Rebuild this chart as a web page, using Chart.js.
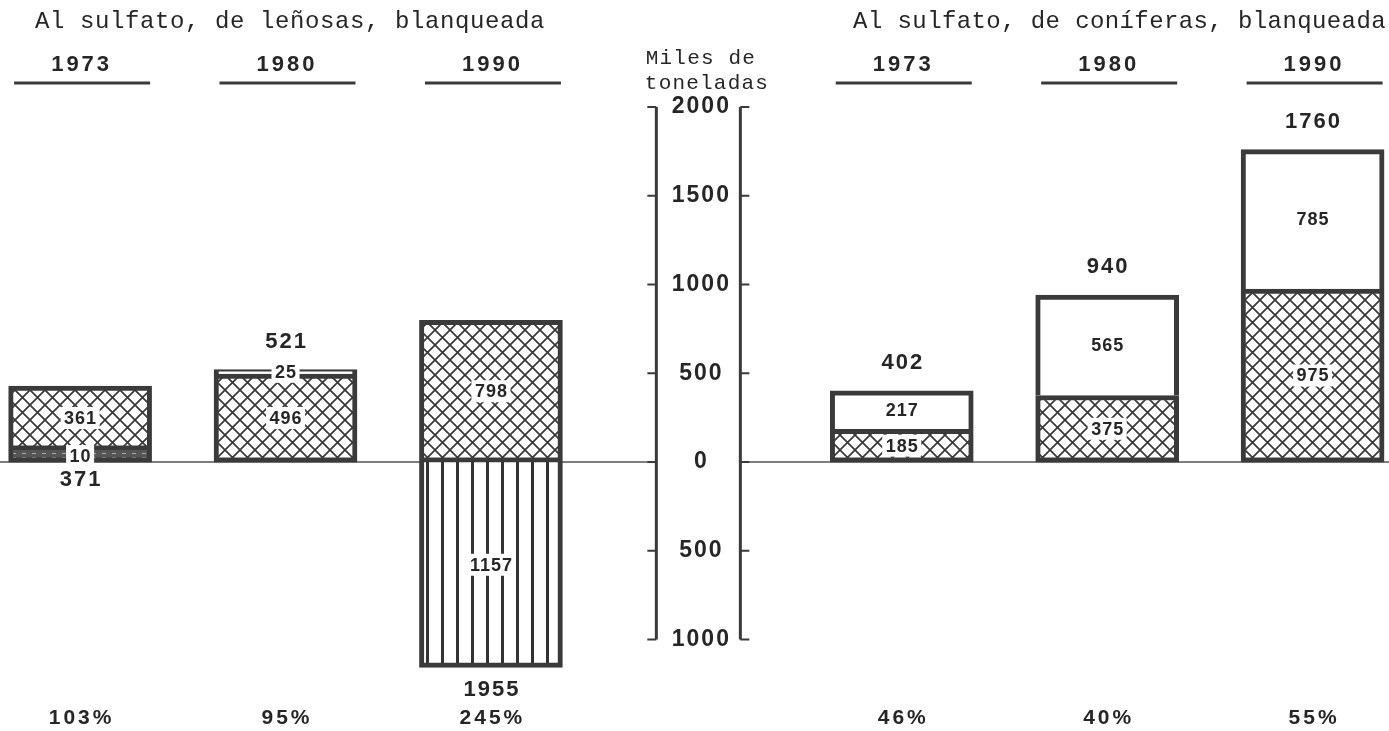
<!DOCTYPE html>
<html lang="es">
<head>
<meta charset="utf-8">
<title>Pasta al sulfato blanqueada</title>
<script src="https://cdn.jsdelivr.net/npm/chart.js@4.4.1/dist/chart.umd.min.js"></script>
<style>
  html, body { margin: 0; padding: 0; background: #fff; }
  #wrap { width: 1389px; height: 731px; }
</style>
</head>
<body>
<div id="wrap"><canvas id="chart" width="1389" height="731"></canvas></div>
<script>
// Categories: three years per pulp type, the empty slot holds the axis
const years = ["1973", "1980", "1990", "", "1973", "1980", "1990"]
const groupTitles = ["Al sulfato, de leñosas, blanqueada", "Al sulfato, de coníferas, blanqueada"]
const unitLabel = ["Miles de", "toneladas"]

// Series values (miles de toneladas)
const bandValues = [10, null, null, null, null, null, null]
const hatchedValues = [361, 496, 798, null, 185, 375, 975]
const whiteValues = [null, 25, null, null, 217, 565, 785]
const negativeValues = [null, null, -1157, null, null, null, null]

// Printed totals and percentages
const totalValues = [371, 521, 1955, null, 402, 940, 1760]
const percentLabels = ["103%", "95%", "245%", "", "46%", "40%", "55%"]

// Axis ticks, printed without sign
const axisTicks = [2000, 1500, 1000, 500, 0, -500, -1000]

const INK = "#262626"
const EDGE = "#3a3a3a"
const SANS = "'Liberation Sans', Arial, sans-serif"
const MONO = "'Liberation Mono', 'DejaVu Sans Mono', monospace"

// Fill patterns
function makeHatch() {
  const c = document.createElement("canvas")
  c.width = 15
  c.height = 15
  const g = c.getContext("2d")
  g.fillStyle = "#fff"
  g.fillRect(0, 0, 15, 15)
  g.strokeStyle = "#383838"
  g.lineWidth = 1.7
  g.beginPath()
  g.moveTo(-2, -2)
  g.lineTo(17, 17)
  g.moveTo(17, -2)
  g.lineTo(-2, 17)
  g.stroke()
  return g.createPattern(c, "repeat")
}

function makeVertical() {
  const c = document.createElement("canvas")
  c.width = 15
  c.height = 4
  const g = c.getContext("2d")
  g.fillStyle = "#fff"
  g.fillRect(0, 0, 15, 4)
  g.fillStyle = "#333"
  g.fillRect(6, 0, 3, 4)
  return g.createPattern(c, "repeat")
}

function makeBand() {
  const c = document.createElement("canvas")
  c.width = 10
  c.height = 4
  const g = c.getContext("2d")
  g.fillStyle = "#555"
  g.fillRect(0, 0, 10, 4)
  g.fillStyle = "#aaa"
  g.fillRect(2, 1, 4, 1)
  return g.createPattern(c, "repeat")
}

const toPoints = (values) =>
  values.map((v, i) => (v === null ? null : { x: i, y: v })).filter(Boolean)

function drawText(ctx, text, x, y, font, spacing, align) {
  ctx.font = font
  ctx.letterSpacing = spacing + "px"
  ctx.textAlign = align || "center"
  ctx.textBaseline = "middle"
  ctx.fillStyle = INK
  ctx.fillText(text, x + (align === "left" || align === "right" ? 0 : spacing / 2), y)
}

// Central double axis with unsigned labels
function drawAxis(chart) {
  const { ctx, scales } = chart
  const cx = scales.x.getPixelForValue(3)
  const top = scales.y.getPixelForValue(axisTicks[0])
  const bottom = scales.y.getPixelForValue(axisTicks[axisTicks.length - 1])
  ctx.save()
  ctx.strokeStyle = EDGE
  ctx.lineWidth = 3
  ctx.beginPath()
  ctx.moveTo(cx - 40, top)
  ctx.lineTo(cx - 40, bottom)
  ctx.moveTo(cx + 44, top)
  ctx.lineTo(cx + 44, bottom)
  ctx.stroke()
  ctx.lineWidth = 2
  axisTicks.forEach((t) => {
    const y = scales.y.getPixelForValue(t)
    ctx.beginPath()
    ctx.moveTo(cx - 49, y)
    ctx.lineTo(cx - 40, y)
    ctx.moveTo(cx + 44, y)
    ctx.lineTo(cx + 53, y)
    ctx.stroke()
    drawText(ctx, String(Math.abs(t)), cx + 4, y, "bold 23px " + SANS, 2)
  })
  ctx.restore()
}

// Value inside each stacked segment, on a white patch
function drawSegmentLabels(chart) {
  const { ctx } = chart
  const font = "bold 18px " + SANS
  ctx.save()
  chart.data.datasets.forEach((ds, di) => {
    const meta = chart.getDatasetMeta(di)
    meta.data.forEach((el, j) => {
      const { x, y, base } = el.getProps(["x", "y", "base"], true)
      const text = String(Math.abs(ds.data[j].y))
      const cy = (y + base) / 2
      ctx.font = font
      ctx.letterSpacing = "1px"
      const w = ctx.measureText(text).width + 6
      ctx.fillStyle = "#fff"
      ctx.fillRect(x - w / 2, cy - 11, w, 22)
      drawText(ctx, text, x, cy + 1, font, 1)
    })
  })
  ctx.restore()
}

// Totals over (or under) the bars and percentages at the foot
function drawTotals(chart) {
  const { ctx, scales, chartArea } = chart
  const below = [true, false, true, false, false, false, false]
  const font = "bold 22px " + SANS
  ctx.save()
  totalValues.forEach((total, i) => {
    if (total === null) return
    const x = scales.x.getPixelForValue(i)
    let y
    if (below[i]) {
      const low = negativeValues[i] !== null ? negativeValues[i] : 0
      y = scales.y.getPixelForValue(low) + (low < 0 ? 22 : 18)
    } else {
      y = scales.y.getPixelForValue(total) - 28
    }
    drawText(ctx, String(total), x, y, font, 2)
  })
  percentLabels.forEach((p, i) => {
    if (!p) return
    drawText(ctx, p, scales.x.getPixelForValue(i), chartArea.bottom - 13, "bold 21px " + SANS, 3)
  })
  ctx.restore()
}

// Group titles, year headings and unit label
function drawHeaders(chart) {
  const { ctx, scales, chartArea } = chart
  ctx.save()
  drawText(ctx, groupTitles[0], 35, 22, "24px " + MONO, 0.6, "left")
  drawText(ctx, groupTitles[1], chartArea.right - 3, 22, "24px " + MONO, 0.4, "right")
  const cx = scales.x.getPixelForValue(3)
  drawText(ctx, unitLabel[0], cx + 4, 58, "21px " + MONO, 1.2)
  drawText(ctx, unitLabel[1], cx + 10, 83, "21px " + MONO, 1.2)
  ctx.strokeStyle = EDGE
  ctx.lineWidth = 3
  years.forEach((yr, i) => {
    if (!yr) return
    const x = scales.x.getPixelForValue(i)
    drawText(ctx, yr, x, 65, "bold 22px " + SANS, 3)
    ctx.beginPath()
    ctx.moveTo(x - 66, 83)
    ctx.lineTo(x + 70, 83)
    ctx.stroke()
  })
  ctx.restore()
}

const annotationsPlugin = {
  id: "annotations",
  beforeDatasetsDraw(chart) {
    const { ctx, chartArea, scales } = chart
    const y0 = scales.y.getPixelForValue(0)
    const cx = scales.x.getPixelForValue(3)
    ctx.save()
    ctx.strokeStyle = "#555"
    ctx.lineWidth = 1.5
    ctx.beginPath()
    ctx.moveTo(chartArea.left, y0)
    ctx.lineTo(cx - 40, y0)
    ctx.moveTo(cx + 44, y0)
    ctx.lineTo(chartArea.right, y0)
    ctx.stroke()
    ctx.restore()
  },
  afterDatasetsDraw(chart) {
    drawAxis(chart)
    drawSegmentLabels(chart)
    drawTotals(chart)
    drawHeaders(chart)
  },
}

const ctx = document.getElementById("chart").getContext("2d")

new Chart(ctx, {
  type: "bar",
  data: {
    datasets: [
      {
        label: "band",
        data: toPoints(bandValues),
        backgroundColor: makeBand(),
        borderColor: EDGE,
        borderWidth: { top: 0, left: 5, right: 5, bottom: 5 },
        minBarLength: 12,
      },
      {
        label: "hatched",
        data: toPoints(hatchedValues),
        backgroundColor: makeHatch(),
        borderColor: EDGE,
        borderWidth: 5,
      },
      {
        label: "white",
        data: toPoints(whiteValues),
        backgroundColor: "#fff",
        borderColor: EDGE,
        borderWidth: { top: 5, left: 5, right: 5, bottom: 0 },
      },
      {
        label: "negative",
        data: toPoints(negativeValues),
        backgroundColor: makeVertical(),
        borderColor: EDGE,
        borderWidth: { top: 0, left: 5, right: 5, bottom: 5 },
      },
    ],
  },
  options: {
    responsive: false,
    animation: false,
    events: [],
    layout: { padding: 0 },
    datasets: {
      bar: { barThickness: 143, borderSkipped: false },
    },
    plugins: {
      legend: { display: false },
      tooltip: { enabled: false },
    },
    scales: {
      x: {
        type: "linear",
        min: -0.39,
        max: 6.372,
        bounds: "data",
        offset: false,
        stacked: true,
        display: false,
        ticks: { stepSize: 1 },
      },
      y: {
        min: -1515,
        max: 2603,
        stacked: true,
        display: false,
      },
    },
  },
  plugins: [annotationsPlugin],
})
</script>
</body>
</html>
